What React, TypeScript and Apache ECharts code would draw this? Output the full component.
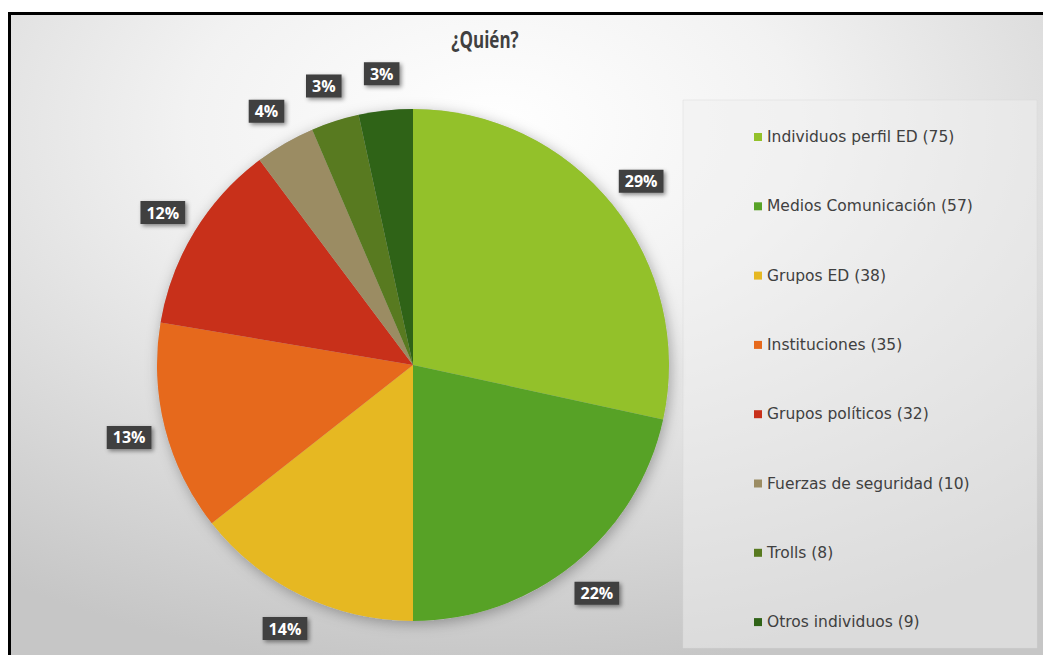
import React, { useEffect, useRef } from "react";
import * as echarts from "echarts";

const categories = [
  "Individuos perfil ED",
  "Medios Comunicación",
  "Grupos ED",
  "Instituciones",
  "Grupos políticos",
  "Fuerzas de seguridad",
  "Trolls",
  "Otros individuos",
];
const values = [75, 57, 38, 35, 32, 10, 8, 9];
const pctLabels = ["29%", "22%", "14%", "13%", "12%", "4%", "3%", "3%"];
const colors = [
  "#93c12a",
  "#57a226",
  "#e6b822",
  "#e6691c",
  "#c8301a",
  "#9b8c63",
  "#587a20",
  "#2f6317",
];
const title = "¿Quién?";

export default function App() {
  const ref = useRef<HTMLDivElement>(null);
  useEffect(() => {
    document.body.style.margin = "0";
    const chart = echarts.init(ref.current!, null, { renderer: "svg" });
    const names = categories.map((c, i) => `${c} (${values[i]})`);
    const data = values.map((v, i) => ({ value: v, name: names[i], itemStyle: { color: colors[i] } }));
    const center = [413, 365];
    chart.setOption({
      animation: false,
      backgroundColor: "#ffffff",
      graphic: [
        {
          type: "rect",
          z: -10,
          silent: true,
          shape: { x: 8, y: 12, width: 1035, height: 643 },
          style: {
            fill: {
              type: "radial",
              x: 0.47,
              y: 0.18,
              r: 0.85,
              colorStops: [
                { offset: 0, color: "#ffffff" },
                { offset: 0.35, color: "#f2f2f2" },
                { offset: 1, color: "#c6c6c6" },
              ],
            },
          },
        },
        {
          type: "rect",
          z: -9,
          silent: true,
          shape: { x: 683, y: 100, width: 354, height: 548 },
          style: { fill: "rgba(240,240,240,0.5)", stroke: "rgba(215,215,215,0.4)", lineWidth: 1 },
        },
        {
          type: "line",
          z: 10,
          silent: true,
          shape: { x1: 8, y1: 13.5, x2: 1043, y2: 13.5 },
          style: { stroke: "#000", lineWidth: 3 },
        },
        {
          type: "line",
          z: 10,
          silent: true,
          shape: { x1: 9.5, y1: 12, x2: 9.5, y2: 655 },
          style: { stroke: "#000", lineWidth: 3 },
        },
        {
          type: "text",
          z: 10,
          silent: true,
          x: 485,
          y: 39,
          scaleX: 0.74,
          style: {
            text: title,
            textAlign: "center",
            textVerticalAlign: "middle",
            fontFamily: "'Open Sans', sans-serif",
            fontSize: 23,
            fontWeight: "bold",
            fill: "#404040",
          },
        },
      ],
      legend: {
        orient: "vertical",
        left: 749,
        top: 123,
        icon: "rect",
        itemWidth: 8,
        itemHeight: 8,
        itemGap: 51.3,
        selectedMode: false,
        textStyle: { fontFamily: "DejaVu Sans", fontSize: 15.5, color: "#404040", lineHeight: 18 },
        data: names.map((n, i) => ({ name: n, itemStyle: { color: colors[i] } })),
      },
      series: [
        {
          type: "pie",
          name: "bg",
          silent: true,
          center,
          radius: [0, 256],
          label: { show: false },
          labelLine: { show: false },
          itemStyle: { color: "#bbbbbb", shadowBlur: 14, shadowColor: "rgba(0,0,0,0.3)", shadowOffsetX: 2, shadowOffsetY: 3 },
          data: [{ value: 1, name: "_bg" }],
        },
        {
          type: "pie",
          name: "main",
          silent: true,
          center,
          radius: [0, 256],
          startAngle: 90,
          clockwise: true,
          label: { show: false },
          labelLine: { show: false },
          data,
        },
        {
          type: "pie",
          name: "labels",
          silent: true,
          center,
          radius: [272, 308],
          startAngle: 90,
          clockwise: true,
          itemStyle: { color: "transparent" },
          labelLine: { show: false },
          label: {
            show: true,
            position: "inside",
            formatter: (p: any) => pctLabels[p.dataIndex],
            color: "#ffffff",
            fontFamily: "'Open Sans', sans-serif",
            fontWeight: "bold",
            fontSize: 16,
            backgroundColor: "#3f3f3f",
            padding: [4, 6, 3, 6],
            shadowBlur: 4,
            shadowColor: "rgba(0,0,0,0.45)",
            shadowOffsetX: 2,
            shadowOffsetY: 2,
          },
          data: values.map((v, i) => ({ value: v, name: names[i] })),
        },
      ],
    });
    return () => chart.dispose();
  }, []);
  return <div ref={ref} style={{ position: "absolute", left: 0, top: 0, width: 1043, height: 655 }} />;
}
